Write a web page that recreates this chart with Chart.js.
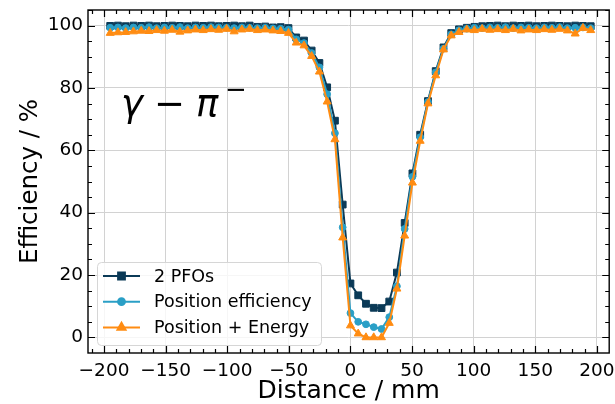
<!DOCTYPE html>
<html>
<head>
<meta charset="utf-8">
<script src="https://cdn.jsdelivr.net/npm/chart.js@4.4.0/dist/chart.umd.min.js"></script>
<style>
  html, body { margin: 0; padding: 0; background: #fff; }
  canvas { display: block; }
</style>
</head>
<body>
<canvas id="eff" width="615" height="404"></canvas>
<script>
// distance from the photon, mm
const distance = [-195, -188.7, -182.4, -176.1, -169.8, -163.5, -157.3, -151, -144.7, -138.4,
  -132.1, -125.8, -119.5, -113.2, -106.9, -100.6, -94.4, -88.1, -81.8, -75.5,
  -69.2, -62.9, -56.6, -50.3, -44, -37.7, -31.5, -25.2, -18.9, -12.6,
  -6.3, 0, 6.3, 12.6, 18.9, 25.2, 31.5, 37.7, 44, 50.3,
  56.6, 62.9, 69.2, 75.5, 81.8, 88.1, 94.4, 100.6, 106.9, 113.2,
  119.5, 125.8, 132.1, 138.4, 144.7, 151, 157.3, 163.5, 169.8, 176.1,
  182.4, 188.7, 195];

const twoPfos = [99.9, 100, 99.8, 100, 99.9, 100, 99.8, 99.9, 100, 99.9,
  99.8, 100, 99.9, 100, 99.8, 99.9, 100, 99.8, 100, 99.6,
  99.7, 99.4, 99.5, 99.2, 96.2, 95.2, 92, 88, 80.2, 69.5,
  42.6, 17.3, 13.5, 10.8, 9.5, 9.4, 11.5, 20.8, 36.7, 52.6,
  65, 75.8, 85.4, 93, 97.6, 98.8, 99.3, 99.6, 99.8, 99.9,
  100, 99.8, 100, 99.9, 100, 99.8, 99.9, 100, 99.9, 99.8,
  100, 99.9, 99.8];

const positionEff = [99.3, 99.4, 99.2, 99.4, 99.3, 99.5, 99.2, 99.4, 99.3, 99.5,
  99.2, 99.4, 99.3, 99.5, 99.4, 99.3, 99.2, 99.4, 99.3, 99.2,
  99.3, 99.1, 99, 98.7, 95.6, 94.4, 91.2, 86.6, 78, 65.5,
  35.3, 7.8, 5, 4.2, 3.3, 2.7, 6.5, 16.4, 34.8, 51.5,
  64.2, 75.5, 85, 92.6, 97.2, 98.5, 99, 99.3, 99.2, 99.4,
  99.3, 99.5, 99.2, 99.4, 99.3, 99.2, 99.4, 99.3, 99.5, 99.2,
  99.3, 99.4, 99.2];

const positionEnergy = [97.6, 97.8, 97.9, 98.1, 98.3, 98.2, 98.5, 98.3, 98.6, 98,
  98.4, 98.7, 98.5, 98.8, 98.6, 98.9, 98.1, 98.7, 98.9, 98.5,
  98.7, 98.4, 98.2, 97.6, 94.5, 93.6, 90.2, 85.2, 75.6, 63.5,
  32, 3.8, 1.2, 0, 0, 0, 4.6, 15.6, 32.6, 49.6,
  63, 75, 84, 92.3, 96.8, 97.9, 98.7, 98.5, 98.9, 98.6,
  98.8, 98.5, 98.9, 98.4, 98.7, 98.5, 98.8, 98.6, 98.9, 98.4,
  97.4, 99.2, 98.5];

const seriesNames = ['2 PFOs', 'Position efficiency', 'Position + Energy'];
const xTicks = [-200, -150, -100, -50, 0, 50, 100, 150, 200];
const yTicks = [0, 20, 40, 60, 80, 100];

const FONT = 'DejaVu Sans';
const colors = ['#0b3a57', '#2a9fc6', '#ff8c12'];
const styles = ['rect', 'circle', 'triangle'];
const radii = [4.8, 3.4, 4.6];

function pts(arr) {
  return distance.map((d, i) => ({ x: d, y: arr[i] }));
}
function fmt(v) {
  return v < 0 ? '\u2212' + Math.abs(v) : String(v);
}

// inward ticks, frame, legend and the label
const decor = {
  id: 'decor',
  afterDraw(chart) {
    const ctx = chart.ctx;
    const a = chart.chartArea;
    const xs = chart.scales.x, ys = chart.scales.y;
    ctx.save();
    ctx.strokeStyle = '#000';
    ctx.lineWidth = 1.2;
    ctx.beginPath();
    for (let v = -210; v <= 210; v += 10) {
      const px = Math.round(xs.getPixelForValue(v)) + 0.5;
      if (px < a.left || px > a.right) continue;
      const len = v % 50 === 0 ? 7 : 4;
      ctx.moveTo(px, a.bottom); ctx.lineTo(px, a.bottom - len);
      ctx.moveTo(px, a.top); ctx.lineTo(px, a.top + len);
    }
    for (let v = -5; v <= 105; v += 5) {
      const py = Math.round(ys.getPixelForValue(v)) + 0.5;
      if (py < a.top || py > a.bottom) continue;
      const len = v % 20 === 0 ? 7 : 4;
      ctx.moveTo(a.left, py); ctx.lineTo(a.left + len, py);
      ctx.moveTo(a.right, py); ctx.lineTo(a.right - len, py);
    }
    ctx.stroke();
    ctx.lineWidth = 1.4;
    ctx.strokeRect(a.left, a.top, a.right - a.left, a.bottom - a.top);

    // label
    ctx.fillStyle = '#000';
    ctx.textBaseline = 'alphabetic';
    ctx.textAlign = 'left';
    ctx.font = 'oblique 37px ' + FONT;
    ctx.fillText('\u03b3', 121, 116);
    ctx.fillText('\u03c0', 196, 116);
    ctx.font = '37px ' + FONT;
    ctx.fillText('\u2212', 154, 116);
    ctx.font = '26px ' + FONT;
    ctx.fillText('\u2212', 225, 98);

    // legend
    const lx = 97, ly = 262, lw = 224, lh = 83;
    ctx.beginPath();
    ctx.roundRect(lx + 0.5, ly + 0.5, lw, lh, 4);
    ctx.fillStyle = 'rgba(255,255,255,0.8)';
    ctx.fill();
    ctx.strokeStyle = '#d6d6d6';
    ctx.lineWidth = 1;
    ctx.stroke();
    ctx.font = '17.5px ' + FONT;
    ctx.textBaseline = 'middle';
    seriesNames.forEach((name, i) => {
      const cy = 276 + i * 25.7;
      ctx.strokeStyle = colors[i];
      ctx.fillStyle = colors[i];
      ctx.lineWidth = 2;
      ctx.beginPath();
      ctx.moveTo(103, cy); ctx.lineTo(140, cy);
      ctx.stroke();
      Chart.helpers.drawPoint(ctx, { pointStyle: styles[i], radius: radii[i], borderWidth: 1, rotation: 0 }, 121.5, cy);
      ctx.fillStyle = '#000';
      ctx.fillText(name, 154, cy + 1);
    });
    ctx.restore();
  }
};

const ctx = document.getElementById('eff').getContext('2d');
new Chart(ctx, {
  type: 'line',
  data: {
    datasets: [twoPfos, positionEff, positionEnergy].map((arr, i) => ({
      label: seriesNames[i],
      data: pts(arr),
      borderColor: colors[i],
      backgroundColor: colors[i],
      pointBackgroundColor: colors[i],
      pointBorderColor: colors[i],
      pointStyle: styles[i],
      pointRadius: radii[i],
      pointBorderWidth: 1,
      borderWidth: 2,
      tension: 0,
      order: 3 - i,
    })),
  },
  options: {
    responsive: false,
    animation: false,
    layout: { padding: { top: 10, right: 3, left: 0, bottom: 0 } },
    plugins: { legend: { display: false }, tooltip: { enabled: false } },
    scales: {
      x: {
        type: 'linear',
        min: -213,
        max: 210,
        afterBuildTicks: (s) => { s.ticks = xTicks.map(v => ({ value: v })); },
        afterFit: (s) => { s.height = 51; s.paddingRight = 0; },
        border: { display: false },
        grid: { color: '#d2d2d2', lineWidth: 1, drawTicks: false },
        ticks: { color: '#000', padding: 7, maxRotation: 0, font: { family: FONT, size: 18.5 }, callback: (v) => fmt(v) },
        title: { display: true, text: 'Distance / mm', color: '#000', font: { family: FONT, size: 25 }, padding: { top: 0, bottom: -2 } },
      },
      y: {
        type: 'linear',
        min: -5,
        max: 105,
        afterBuildTicks: (s) => { s.ticks = yTicks.map(v => ({ value: v })); },
        afterFit: (s) => { s.width = 88; s.paddingTop = 0; s.paddingBottom = 0; },
        border: { display: false },
        grid: { color: '#d2d2d2', lineWidth: 1, drawTicks: false },
        ticks: { color: '#000', padding: 5, font: { family: FONT, size: 18.5 }, callback: (v) => fmt(v) },
        title: { display: true, text: 'Efficiency / %', color: '#000', font: { family: FONT, size: 24.5 }, padding: { top: 16, bottom: 0 } },
      },
    },
  },
  plugins: [decor],
});
</script>
</body>
</html>
